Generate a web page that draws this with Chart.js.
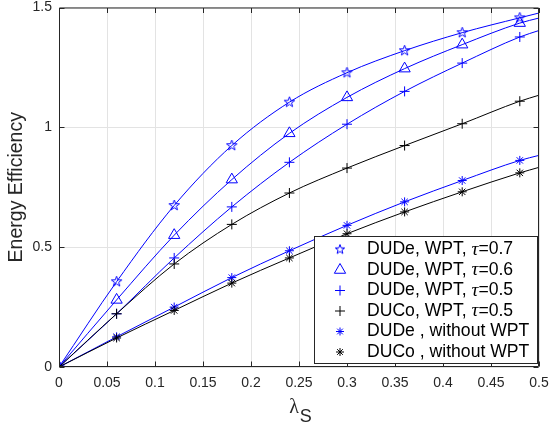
<!DOCTYPE html>
<html>
<head>
<meta charset="utf-8">
<script src="https://cdn.jsdelivr.net/npm/chart.js@4.4.1/dist/chart.umd.min.js"></script>
<style>
  html, body { margin: 0; padding: 0; background: #fff; }
  canvas { display: block; }
</style>
</head>
<body>
<canvas id="ee" width="550" height="427"></canvas>
<script>
// lambda_S sample points (markers every 0.06, line runs to 0.5)
const lambdaS = [0, 0.06, 0.12, 0.18, 0.24, 0.30, 0.36, 0.42, 0.48, 0.5];

const dudeWpt07 = [0, 0.356, 0.674, 0.924, 1.105, 1.228, 1.32, 1.395, 1.457, 1.477];
const dudeWpt06 = [0, 0.28, 0.55, 0.782, 0.975, 1.125, 1.245, 1.345, 1.435, 1.456];
const dudeWpt05 = [0, 0.222, 0.455, 0.668, 0.854, 1.013, 1.15, 1.268, 1.377, 1.404];
const ducoWpt05 = [0, 0.222, 0.43, 0.595, 0.726, 0.83, 0.924, 1.015, 1.109, 1.134];
const dudeNoWpt = [0, 0.126, 0.25, 0.373, 0.485, 0.591, 0.689, 0.778, 0.862, 0.883];
const ducoNoWpt = [0, 0.121, 0.236, 0.35, 0.455, 0.556, 0.647, 0.731, 0.81, 0.833];

const legendLabels = [
  ["DUDe, WPT, ", "0.7"],
  ["DUDe, WPT, ", "0.6"],
  ["DUDe, WPT, ", "0.5"],
  ["DUCo, WPT, ", "0.5"],
  ["DUDe , without WPT", null],
  ["DUCo , without WPT", null]
];

const BLUE = "#0000ff";
const BLACK = "#000000";
const SANS = "'Liberation Sans', Arial, sans-serif";
const SERIF = "'Liberation Serif', 'DejaVu Serif', serif";

// pentagram marker drawn once on a little canvas
function pentagram(color, r) {
  const c = document.createElement("canvas");
  const s = Math.ceil(r * 2 + 4);
  c.width = s; c.height = s;
  const g = c.getContext("2d");
  g.strokeStyle = color;
  g.lineWidth = 1;
  g.beginPath();
  for (let i = 0; i < 10; i++) {
    const rr = i % 2 === 0 ? r : r * 0.4;
    const ang = -Math.PI / 2 + i * Math.PI / 5;
    const px = s / 2 + rr * Math.cos(ang);
    const py = s / 2 + rr * Math.sin(ang);
    if (i === 0) g.moveTo(px, py); else g.lineTo(px, py);
  }
  g.closePath();
  g.stroke();
  return c;
}
const starImg = pentagram(BLUE, 5.5);
const starImgSmall = pentagram(BLUE, 5);

// markers only on the 0.06 grid, not on the last 0.5 point
const radii = r => lambdaS.map((v, i) => (i === lambdaS.length - 1 ? 0 : r));
const pts = ys => lambdaS.map((x, i) => ({ x: x, y: ys[i] }));

function series(label, ys, color, style, r) {
  return {
    label: label,
    data: pts(ys),
    borderColor: color,
    backgroundColor: "rgba(0,0,0,0)",
    borderWidth: 1,
    pointStyle: style,
    pointRadius: radii(r),
    pointBorderColor: color,
    pointBackgroundColor: "rgba(0,0,0,0)",
    pointBorderWidth: 1,
    cubicInterpolationMode: "monotone",
    fill: false
  };
}

const datasets = [
  series("DUCo , without WPT", ducoNoWpt, BLACK, "star", 4.5),
  series("DUDe , without WPT", dudeNoWpt, BLUE, "star", 4.5),
  series("DUCo, WPT, 0.5", ducoWpt05, BLACK, "cross", 5),
  series("DUDe, WPT, 0.5", dudeWpt05, BLUE, "cross", 5),
  series("DUDe, WPT, 0.6", dudeWpt06, BLUE, "triangle", 6.5),
  series("DUDe, WPT, 0.7", dudeWpt07, BLUE, starImg, 6)
];

const fmt = v => String(Number(v.toFixed(2)));

// MATLAB-like box with inward ticks
const boxPlugin = {
  id: "box",
  afterDatasetsDraw(chart) {
    const { ctx, chartArea: a, scales } = chart;
    const L = a.left + 0.5, R = a.right - 0.5, T = a.top + 0.5, B = a.bottom - 0.5;
    ctx.save();
    ctx.strokeStyle = "#262626";
    ctx.lineWidth = 1;
    ctx.beginPath();
    ctx.rect(L, T, R - L, B - T);
    scales.x.ticks.forEach(t => {
      const px = Math.round(scales.x.getPixelForValue(t.value)) + 0.5;
      ctx.moveTo(px, B); ctx.lineTo(px, B - 5);
      ctx.moveTo(px, T); ctx.lineTo(px, T + 5);
    });
    scales.y.ticks.forEach(t => {
      const py = Math.round(scales.y.getPixelForValue(t.value)) + 0.5;
      ctx.moveTo(L, py); ctx.lineTo(L + 5, py);
      ctx.moveTo(R, py); ctx.lineTo(R - 5, py);
    });
    ctx.stroke();
    ctx.restore();
  },
  afterDraw(chart) {
    const { ctx, chartArea: a } = chart;
    ctx.save();
    // x axis title: lambda with subscript S
    const cx = (a.left + a.right) / 2;
    ctx.fillStyle = "#262626";
    ctx.textBaseline = "alphabetic";
    ctx.font = "20px " + SERIF;
    const wl = ctx.measureText("λ").width;
    ctx.font = "18px " + SANS;
    const ws = ctx.measureText("S").width;
    const x0 = cx - (wl + ws) / 2 + 1;
    ctx.font = "20px " + SERIF;
    ctx.fillText("λ", x0, 413);
    ctx.font = "18px " + SANS;
    ctx.fillText("S", x0 + wl + 1, 422);

    // legend
    const lx = 314.5, ly = 236.5, lw = 223, lh = 127;
    ctx.fillStyle = "#fff";
    ctx.fillRect(lx, ly, lw, lh);
    ctx.strokeStyle = "#262626";
    ctx.lineWidth = 1;
    ctx.strokeRect(lx, ly, lw, lh);
    const rowY = [249.5, 270, 290.5, 311, 331.5, 352];
    const styles = [
      [starImgSmall, BLUE, 5], ["triangle", BLUE, 6.5], ["cross", BLUE, 5],
      ["cross", BLACK, 5], ["star", BLUE, 4], ["star", BLACK, 4]
    ];
    legendLabels.forEach((lab, i) => {
      const y = rowY[i];
      const [st, col, r] = styles[i];
      ctx.strokeStyle = col;
      ctx.fillStyle = "rgba(0,0,0,0)";
      ctx.lineWidth = 1;
      Chart.helpers.drawPoint(ctx, { pointStyle: st, radius: r, borderWidth: 1 }, 340, y);
      ctx.fillStyle = "#000";
      ctx.textBaseline = "middle";
      let tx = 367;
      ctx.font = "17.6px " + SANS;
      ctx.fillText(lab[0], tx, y);
      if (lab[1]) {
        tx += ctx.measureText(lab[0]).width;
        ctx.font = "italic 19px " + SERIF;
        ctx.fillText("τ", tx, y);
        tx += ctx.measureText("τ").width;
        ctx.font = "17.6px " + SANS;
        ctx.fillText("=" + lab[1], tx, y);
      }
    });
    ctx.restore();
  }
};

new Chart(document.getElementById("ee"), {
  type: "line",
  data: { datasets: datasets },
  options: {
    responsive: false,
    animation: false,
    layout: { padding: { top: 5, right: 11, left: 0, bottom: 0 } },
    plugins: { legend: { display: false }, tooltip: { enabled: false } },
    scales: {
      x: {
        type: "linear",
        min: 0,
        max: 0.5,
        ticks: {
          stepSize: 0.05,
          callback: fmt,
          color: "#262626",
          padding: 8,
          maxRotation: 0,
          font: { family: SANS, size: 14 }
        },
        grid: { color: "#e3e3e3", drawTicks: false },
        border: { display: false },
        afterFit: s => { s.height = 60; s.paddingLeft = 0; s.paddingRight = 0; }
      },
      y: {
        min: 0,
        max: 1.5,
        ticks: {
          stepSize: 0.5,
          callback: fmt,
          color: "#262626",
          padding: 7,
          font: { family: SANS, size: 14 }
        },
        grid: { color: "#e3e3e3", drawTicks: false },
        border: { display: false },
        title: {
          display: true,
          text: "Energy Efficiency",
          color: "#262626",
          font: { family: SANS, size: 19.5 },
          padding: { top: 5, bottom: 0 }
        },
        afterFit: s => { s.width = 59; s.paddingTop = 0; s.paddingBottom = 0; }
      }
    }
  },
  plugins: [boxPlugin]
});
</script>
</body>
</html>
